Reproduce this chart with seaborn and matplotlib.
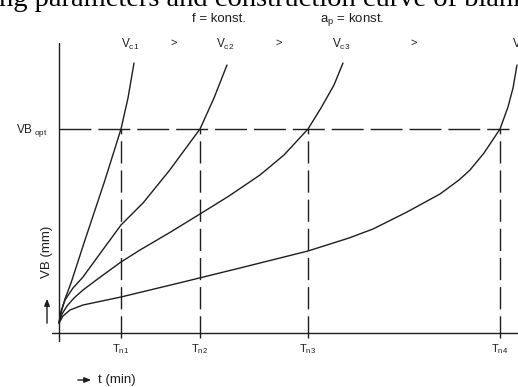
import matplotlib
matplotlib.use("Agg")
import matplotlib.pyplot as plt
import seaborn as sns
import pandas as pd

# ---- data (arbitrary units) ----
t_vc1 = [0, 2, 6, 12, 26, 46, 62, 69, 75]
vb_vc1 = [10, 20, 34, 50, 93, 153, 204, 235, 270]
t_vc2 = [0, 2, 6, 14, 24, 40, 62, 84, 110, 141, 155, 168]
vb_vc2 = [10, 22, 33, 45, 56, 78, 108, 130, 162, 204, 235, 268]
t_vc3 = [0, 3, 8, 15, 24, 40, 62, 81, 110, 141, 170, 201, 225, 249, 262, 275, 284]
vb_vc3 = [10, 19, 27, 35, 43, 55, 71, 83, 100, 119, 137, 158, 178, 204, 225, 248, 270]
t_vc4 = [0, 4, 11, 24, 62, 120, 181, 249, 290, 314, 348, 381, 400, 411, 425, 441, 449, 454, 458]
vb_vc4 = [10, 17, 23, 28, 36, 50, 65, 82, 95, 104, 121, 139, 153, 163, 180, 204, 226, 245, 268]
series_names = ["vc1", "vc2", "vc3", "vc4"]
series_labels = [r"V$_{\rm c1}$", r"V$_{\rm c2}$", r"V$_{\rm c3}$", r"V$_{\rm c4}$"]
tn_values = [62, 141, 249, 441]
tn_labels = [r"T$_{\rm n1}$", r"T$_{\rm n2}$", r"T$_{\rm n3}$", r"T$_{\rm n4}$"]
vb_opt = 204

W, H = 518, 387
sns.set_theme(style="white")
plt.rcParams["font.family"] = ["Liberation Sans", "DejaVu Sans"]
plt.rcParams["mathtext.fontset"] = "custom"
plt.rcParams["mathtext.rm"] = "Liberation Sans"
plt.rcParams["mathtext.it"] = "Liberation Sans:italic"

fig = plt.figure(figsize=(W / 100, H / 100), dpi=100)
ax = fig.add_axes([52 / W, 45 / H, 466 / W, 299 / H])
ax.set_xlim(-7, 459)
ax.set_ylim(-9, 290)
ax.axis("off")

rows = []
for name, ts, vbs in zip(series_names, [t_vc1, t_vc2, t_vc3, t_vc4],
                         [vb_vc1, vb_vc2, vb_vc3, vb_vc4]):
    for t, v in zip(ts, vbs):
        rows.append({"curve": name, "t": t, "VB": v})
df = pd.DataFrame(rows)

ink = "#1e1e1e"
sns.lineplot(data=df, x="t", y="VB", hue="curve", palette=[ink] * 4,
             legend=False, ax=ax, linewidth=1.0, sort=False)

# axes lines
ax.axvline(0, ymin=0, ymax=1, color=ink, lw=1.0)
ax.axhline(0, xmin=0, xmax=1, color=ink, lw=1.0)

# VB_opt and Tn dashed lines
ax.hlines(vb_opt, 0, 450, colors=ink, lw=1.0, linestyles=(0, (23, 5)))
ax.vlines(tn_values, -5, vb_opt, colors=ink, lw=1.0, linestyles=(0, (16, 5)))

def fx(px):
    return px / W

def fy(py):
    return 1 - py / H

# clipped caption from the source document
fig.text(fx(-1), fy(6), "ng parameters and construction curve of blank",
         family="Liberation Serif", fontsize=20.5, ha="left", va="baseline",
         color="black")

fig.text(fx(219), fy(22), "f = konst.", fontsize=9.5, ha="center", va="baseline", color=ink)
fig.text(fx(352), fy(22), r"a$_{\rm p}$ = konst.", fontsize=9.5, ha="center",
         va="baseline", color=ink)

# curve labels
label_x = [130, 225, 341, 521]
for lx, lab in zip(label_x, series_labels):
    fig.text(fx(lx), fy(48), lab, fontsize=8.5, ha="center", va="baseline", color=ink)
for gx in [174, 279, 414]:
    fig.text(fx(gx), fy(46), ">", fontsize=8, ha="center", va="baseline", color=ink)

# Tn labels
for tn, lab in zip(tn_values, tn_labels):
    ax.text(tn, -16, lab, fontsize=8, ha="center", va="center", color=ink)

# VB_opt label
fig.text(fx(16), fy(133), r"VB$_{\rm \ opt}$", fontsize=8.5, ha="left", va="baseline",
         color=ink)

# y label with arrow
fig.text(fx(47), fy(252), "VB (mm)", fontsize=9.5, rotation=90, ha="center",
         va="center", color=ink)
fig.add_artist(matplotlib.patches.FancyArrowPatch(
    (fx(47), fy(326)), (fx(47), fy(296)), transform=fig.transFigure,
    arrowstyle="-|>,head_length=4,head_width=1.6", color=ink, lw=1.0))

# x label with arrow
fig.text(fx(98), fy(380), "t (min)", fontsize=9.5, ha="left", va="center", color=ink)
fig.add_artist(matplotlib.patches.FancyArrowPatch(
    (fx(75), fy(380)), (fx(94), fy(380)), transform=fig.transFigure,
    arrowstyle="-|>,head_length=4,head_width=1.6", color=ink, lw=1.0))

fig.savefig("out.png", dpi=100)
